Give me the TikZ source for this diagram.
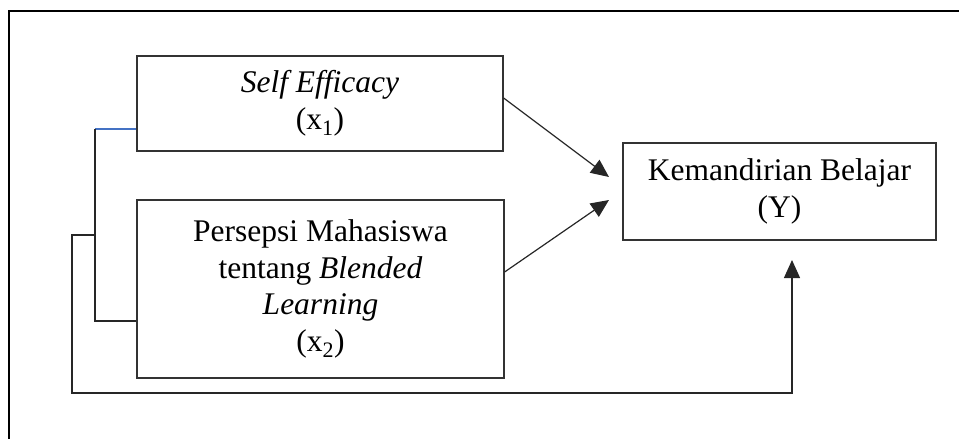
\documentclass[tikz,border=0pt]{standalone}
\usepackage{fontspec}
\setmainfont{Liberation Serif}
\usetikzlibrary{arrows.meta}
\definecolor{linkblue}{RGB}{68,114,196}
\begin{document}
\begin{tikzpicture}[x=1pt,y=-1pt,
  boxnode/.style={draw=black!80, line width=1.2pt, inner sep=0pt, align=center,
    font=\fontsize{31.5}{36.5}\selectfont},
  link/.style={line width=1.2pt, draw=black!85},
  arr/.style={link, -{Triangle[length=18pt,width=16pt]}}]
\useasboundingbox (0,0) rectangle (959,439);
\draw[line width=2.5pt] (959,11) -- (9,11) -- (9,439);

\node[boxnode, minimum width=366pt, minimum height=95pt] (x1) at (320,103.5)
  {\textit{Self Efficacy}\\(x\textsubscript{1})};
\node[boxnode, minimum width=367pt, minimum height=178pt] (x2) at (320.5,289)
  {Persepsi Mahasiswa\\tentang \textit{Blended}\\\textit{Learning}\\(x\textsubscript{2})};
\node[boxnode, minimum width=313pt, minimum height=97pt] (y) at (779.5,191.5)
  {Kemandirian Belajar\\(Y)};

\coordinate (t1) at (609,177);
\coordinate (t2) at (609,200);
\coordinate (t3) at (792,260);
\coordinate (j1) at (95,129);
\coordinate (j2) at (95,321);
\coordinate (j3) at (95,235);
\coordinate (c1) at (72,235);
\coordinate (c2) at (72,393);
\coordinate (c3) at (792,393);

\draw[arr] ([yshift=5.5pt]x1.east) -- (t1);
\draw[arr] ([yshift=17pt]x2.east) -- (t2);
\draw[link, draw=linkblue] ([yshift=-25.5pt]x1.west) -- (j1);
\draw[link] (j1) -- (j2) -- ([yshift=-32pt]x2.west);
\draw[arr] (j3) -- (c1) -- (c2) -- (c3) -- (t3);
\end{tikzpicture}
\end{document}
